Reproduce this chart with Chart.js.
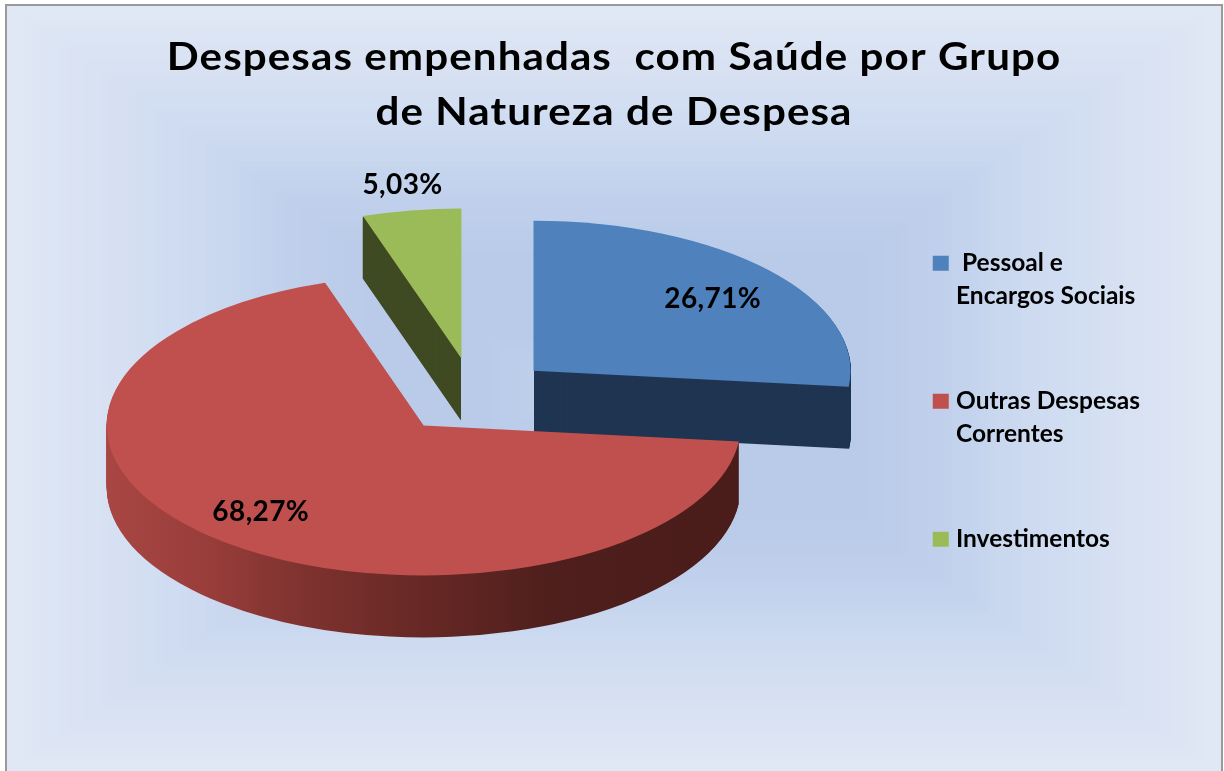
<!DOCTYPE html>
<html><head><meta charset="utf-8">
<style>html,body{margin:0;padding:0;background:#fff;overflow:hidden}canvas{display:block}</style>
<script src="https://cdn.jsdelivr.net/npm/chart.js@4/dist/chart.umd.js"></script>
</head><body>
<canvas id="c" width="1224" height="771"></canvas>
<script>
const categories = [[" Pessoal e", "Encargos Sociais"], ["Outras Despesas", "Correntes"], "Investimentos"];
const values = [26.71, 68.27, 5.03];
const valueLabels = ["26,71%", "68,27%", "5,03%"];
const titleLines = ["Despesas empenhadas  com Saúde por Grupo", "de Natureza de Despesa"];
const topColors = ["#4f81bd", "#c0504d", "#9bbb59"];
const wallColors = ["#1f3552", null, "#3f4a22"];
const labelRadial = [[0.76, 0.72], [0.816, 0.74], [1.18, 1.17]];

const FONT = "Lato, Carlito, sans-serif";
const VIEW = {cx: 474, cy: 396, rx: 317, ry: 150, depth: 62, explode: 80};
const STACK_ORDER = [0, 2, 1];
const WALL_NUDGE = [0.5, 0, -0.5];

function mix(a, b, t) { return a.map((v, i) => Math.round(v + (b[i] - v) * t)); }
const bgStops = [[0, [225, 232, 245]], [0.34, [205, 218, 240]], [0.5, [192, 208, 236]], [0.65, [185, 203, 233]], [0.85, [185, 203, 233]], [1, [192, 209, 236]]];
function bgColor(t) {
  for (let i = 1; i < bgStops.length; i++) {
    if (t <= bgStops[i][0]) {
      const a = bgStops[i - 1], b = bgStops[i];
      return "rgb(" + mix(a[1], b[1], (t - a[0]) / (b[0] - a[0])).join(",") + ")";
    }
  }
  return "rgb(192,209,236)";
}

const frame = {
  id: "frame",
  beforeDraw(chart) {
    const ctx = chart.ctx, W = chart.width, H = chart.height;
    ctx.save();
    ctx.fillStyle = "#fff"; ctx.fillRect(0, 0, W, H);
    const L = 6, T = 5, R = W - 2, B = H + 2;
    const n = 64, hh = (B - T) / 2, hw = hh * 1.45;
    for (let i = 0; i < n; i++) {
      const t = i / n;
      ctx.fillStyle = bgColor(t);
      ctx.fillRect(L + hw * t, T + hh * t, (R - L) - 2 * hw * t, (B - T) - 2 * hh * t);
    }
    ctx.strokeStyle = "#9a9a9a"; ctx.lineWidth = 2;
    ctx.strokeRect(L, T, R - L, B - T);
    ctx.restore();
    const tb = chart.titleBlock;
    if (tb && !tb.__spaced) {
      const orig = tb.draw;
      tb.draw = function () {
        const prev = ctx.letterSpacing;
        ctx.save();
        ctx.translate(614, 0); ctx.scale(1.08, 1); ctx.translate(-614, 0);
        ctx.letterSpacing = "1px";
        orig.apply(this, arguments);
        ctx.letterSpacing = prev;
        ctx.restore();
      };
      tb.__spaced = true;
    }
  }
};

const pie3d = {
  id: "pie3d",
  beforeDatasetDraw(chart, args) {
    const ctx = chart.ctx, arcs = args.meta.data;
    const place = (el, d, nudge) => {
      const r = el.outerRadius, mid = (el.startAngle + el.endAngle) / 2;
      ctx.translate(VIEW.cx + nudge, VIEW.cy + d);
      ctx.scale(VIEW.rx / r, VIEW.ry / r);
      ctx.translate(-el.x, -el.y);
      const e = VIEW.explode * r / VIEW.rx;
      ctx.translate(Math.cos(mid) * e, Math.sin(mid) * e);
    };
    for (const i of STACK_ORDER) {
      const el = arcs[i], saved = el.options;
      let fill = wallColors[i];
      if (!fill) {
        const g = ctx.createLinearGradient(el.x - el.outerRadius, 0, el.x + el.outerRadius, 0);
        g.addColorStop(0, "#a84643");
        g.addColorStop(0.15, "#9a3e3b");
        g.addColorStop(0.3, "#803330");
        g.addColorStop(0.46, "#6c2a27");
        g.addColorStop(0.7, "#4e1f1c");
        g.addColorStop(1, "#4a1c1a");
        fill = g;
      }
      el.options = Object.assign({}, saved, {backgroundColor: fill, borderWidth: 0});
      for (let d = VIEW.depth; d > 0; d--) {
        ctx.save(); place(el, d, WALL_NUDGE[i]); el.draw(ctx); ctx.restore();
      }
      el.options = saved;
    }
    for (const i of STACK_ORDER) {
      ctx.save(); place(arcs[i], 0, 0); arcs[i].draw(ctx); ctx.restore();
    }
    return false;
  },
  afterDraw(chart) {
    const ctx = chart.ctx, arcs = chart.getDatasetMeta(0).data;
    ctx.save();
    ctx.fillStyle = "#000"; ctx.textAlign = "center"; ctx.textBaseline = "middle";
    ctx.font = "bold 28px " + FONT;
    ctx.letterSpacing = "0.4px";
    arcs.forEach((el, i) => {
      const mid = (el.startAngle + el.endAngle) / 2;
      const ax = VIEW.cx + Math.cos(mid) * VIEW.explode;
      const ay = VIEW.cy + Math.sin(mid) * VIEW.explode * VIEW.ry / VIEW.rx;
      const x = ax + Math.cos(mid) * VIEW.rx * labelRadial[i][0];
      const y = ay + Math.sin(mid) * VIEW.ry * labelRadial[i][1];
      ctx.fillText(valueLabels[i], x, y);
    });
    ctx.restore();
  }
};

new Chart(document.getElementById("c"), {
  type: "pie",
  data: {labels: categories, datasets: [{data: values, backgroundColor: topColors, borderWidth: 0}]},
  plugins: [frame, pie3d],
  options: {
    responsive: false,
    animation: false,
    layout: {padding: {left: 78, right: 74}},
    plugins: {
      tooltip: {enabled: false},
      title: {
        display: true, text: titleLines, color: "#000",
        font: {family: FONT, size: 39, weight: "bold", lineHeight: 55 / 39},
        padding: {top: 30, bottom: 39}
      },
      legend: {
        position: "right", align: "start", fullSize: false,
        labels: {
          color: "#000", boxWidth: 6, boxHeight: 5, padding: 72,
          font: {family: FONT, size: 24.5, weight: "bold", lineHeight: 33 / 24.5},
          generateLabels(chart) {
            return Chart.controllers.doughnut.overrides.plugins.legend.labels.generateLabels(chart)
              .map(item => Object.assign(item, {strokeStyle: item.fillStyle, lineWidth: 10}));
          }
        }
      }
    }
  }
});
</script>
</body></html>
